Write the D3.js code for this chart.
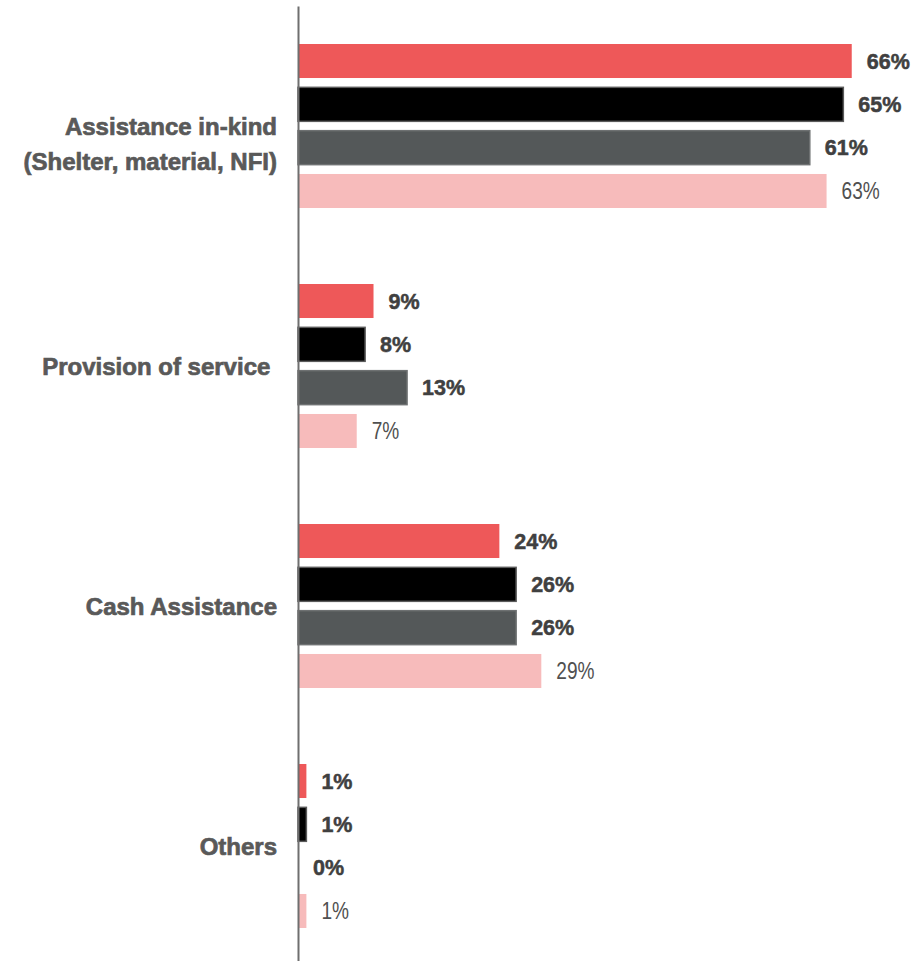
<!DOCTYPE html>
<html>
<head>
<meta charset="utf-8">
<script src="https://cdn.jsdelivr.net/npm/d3@7"></script>
<style>
  html, body { margin: 0; padding: 0; background: #ffffff; }
  svg { display: block; }
  text { white-space: pre; }
</style>
</head>
<body>
<div id="chart"></div>
<script>
// ---- data ----
const categories = [
  "Assistance in-kind\n(Shelter, material, NFI)",
  "Provision of service ",
  "Cash Assistance",
  "Others"
];
const seriesNames = ["Series 1", "Series 2", "Series 3", "Series 4"];
const series1 = [66, 9, 24, 1];
const series2 = [65, 8, 26, 1];
const series3 = [61, 13, 26, 0];
const series4 = [63, 7, 29, 1];
const seriesValues = [series1, series2, series3, series4];

// ---- styles ----
const fills   = ["#ee5859", "#000000", "#545859", "#f7bbbb"];
const strokes = ["none", "#5a5a5a", "#6e7172", "none"];
const labelStyles = [
  {weight: "bold", size: 21.5, color: "#404040", stroke: 0.5, sx: 1},
  {weight: "bold", size: 21.5, color: "#404040", stroke: 0.5, sx: 1},
  {weight: "bold", size: 21.5, color: "#404040", stroke: 0.5, sx: 1},
  {weight: "normal", size: 23, color: "#505050", stroke: 0, sx: 0.83}
];
const FONT = "'Liberation Sans', Arial, sans-serif";

const W = 914, H = 961;
const svg = d3.select("#chart").append("svg")
  .attr("width", W).attr("height", H);

const x = d3.scaleLinear().domain([0, 70]).range([298, 298 + 70 * 8.39]);
const y0 = d3.scaleBand().domain(categories).range([6, 966]);
const y1 = d3.scaleBand().domain(seriesNames)
  .range([0, y0.bandwidth()])
  .paddingInner(0.215).paddingOuter(0.877);

const rows = [];
categories.forEach((c, ci) => {
  seriesNames.forEach((s, si) => {
    rows.push({cat: c, ser: s, si, value: seriesValues[si][ci]});
  });
});

// bars
svg.append("g").selectAll("rect")
  .data(rows.filter(d => d.value > 0))
  .join("rect")
  .attr("x", x(0))
  .attr("y", d => y0(d.cat) + y1(d.ser))
  .attr("width", d => x(d.value) - x(0))
  .attr("height", y1.bandwidth())
  .attr("fill", d => fills[d.si])
  .attr("stroke", d => strokes[d.si])
  .attr("stroke-width", 1.5);

// value labels
svg.append("g").selectAll("text")
  .data(rows)
  .join("text")
  .attr("transform", d => `translate(${x(d.value) + 15},${y0(d.cat) + y1(d.ser) + y1.bandwidth() / 2}) scale(${labelStyles[d.si].sx},1)`)
  .attr("dy", "0.36em")
  .style("font-family", FONT)
  .style("font-weight", d => labelStyles[d.si].weight)
  .style("font-size", d => labelStyles[d.si].size + "px")
  .attr("fill", d => labelStyles[d.si].color)
  .attr("stroke", d => labelStyles[d.si].stroke ? labelStyles[d.si].color : "none")
  .attr("stroke-width", d => labelStyles[d.si].stroke)
  .text(d => d.value + "%");

// vertical axis line
const axis = d3.axisLeft(y0).tickSize(0).tickFormat("");
const ag = svg.append("g")
  .attr("transform", `translate(${x(0)},0)`)
  .call(axis);
ag.select(".domain")
  .attr("stroke", "#6f6f6f")
  .attr("stroke-width", 2);
ag.selectAll(".tick").remove();

// category labels
const cl = svg.append("g").selectAll("text")
  .data(categories)
  .join("text")
  .attr("x", 277)
  .attr("y", d => y0(d) + y0.bandwidth() / 2)
  .attr("text-anchor", "end")
  .style("font-family", FONT)
  .style("font-weight", "bold")
  .style("font-size", "24px")
  .attr("fill", "#595959")
  .attr("stroke", "#595959")
  .attr("stroke-width", 0.7);
cl.each(function(d) {
  const lines = d.split("\n");
  const t = d3.select(this);
  lines.forEach((ln, i) => {
    t.append("tspan")
      .attr("x", 277)
      .attr("dy", i === 0 ? "0.36em" : "35px")
      .text(ln);
  });
});
</script>
</body>
</html>
